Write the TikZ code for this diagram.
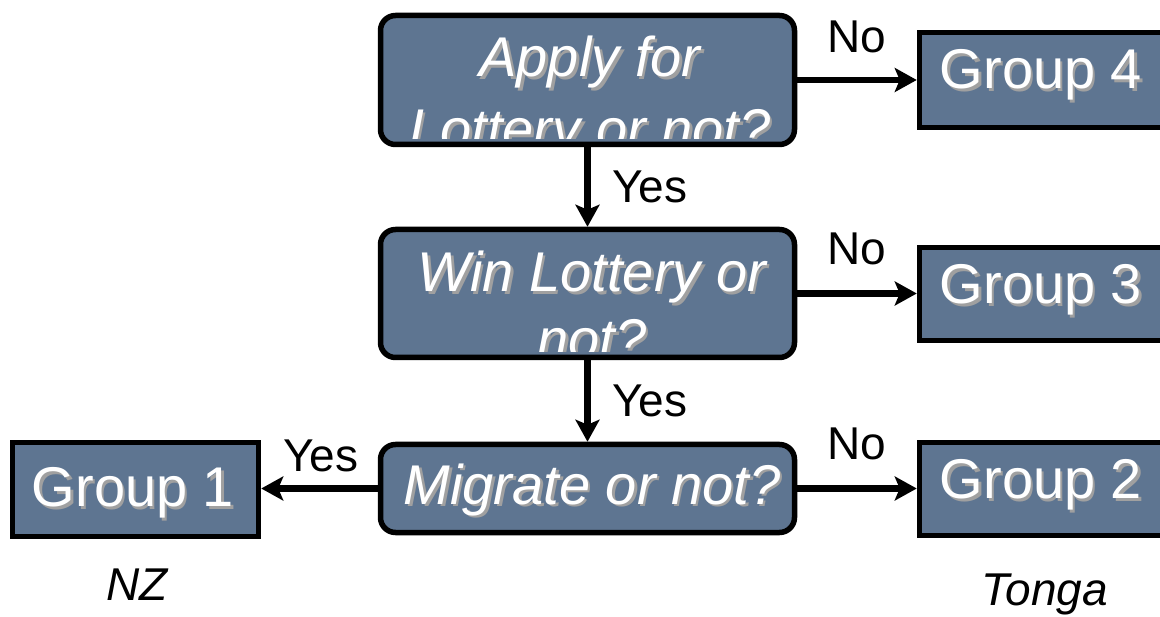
\documentclass[tikz,border=0pt]{standalone}
\usepackage{fontspec}
\setmainfont{Liberation Sans}
\usetikzlibrary{arrows.meta}
\definecolor{boxcol}{RGB}{94,117,145}
\definecolor{shcol}{RGB}{160,160,160}
\newcommand\shtxt[4]{% style, name, coord, text
  \node[#1, text=shcol] (#2s) at ([shift={(2.5,2.5)}]#3) {#4};
  \node[#1, text=white] (#2) at (#3) {#4};}
\begin{document}
\begin{tikzpicture}[x=1pt,y=-1pt,
  dbox/.style={draw=black, line width=5.5pt, fill=boxcol, rounded corners=15pt, inner sep=0pt},
  gbox/.style={draw=black, line width=5.5pt, fill=boxcol, inner sep=0pt},
  dtext/.style={font=\fontsize{56}{60}\selectfont\itshape, anchor=base, inner sep=0pt},
  gtext/.style={font=\fontsize{56}{60}\selectfont, anchor=base, inner sep=0pt},
  lbl/.style={font=\fontsize{46}{50}\selectfont, anchor=base, inner sep=0pt},
  place/.style={font=\fontsize{46}{50}\selectfont\itshape, anchor=base, inner sep=0pt},
  arr/.style={line width=6.5pt, -{Stealth[length=22pt, width=24pt, inset=5pt]}}]
\useasboundingbox (0,0) rectangle (1160,617);
\clip (0,0) rectangle (1160,617);

% decision boxes
\node[dbox, minimum width=414pt, minimum height=129pt] (apply) at (587.5,80) {};
\node[dbox, minimum width=414pt, minimum height=128pt] (win) at (587.5,293.5) {};
\node[dbox, minimum width=414pt, minimum height=88pt] (mig) at (587.5,488.5) {};

% group boxes
\node[gbox, minimum width=243pt, minimum height=95pt] (g4) at (1041,80) {};
\node[gbox, minimum width=243pt, minimum height=93pt] (g3) at (1041,294) {};
\node[gbox, minimum width=243pt, minimum height=93pt] (g2) at (1041,489) {};
\node[gbox, minimum width=246pt, minimum height=94pt] (g1) at (135.5,489.5) {};

% decision texts
\begin{scope}
  \clip (382,17) rectangle (793,139);
  \shtxt{dtext}{applyA}{590,77}{Apply for}
  \shtxt{dtext}{applyB}{590,149}{Lottery or not?}
\end{scope}
\begin{scope}
  \clip (382,231) rectangle (793,352);
  \shtxt{dtext}{winA}{592,292}{Win Lottery or}
  \shtxt{dtext}{winB}{592,359}{not?}
\end{scope}
\shtxt{dtext}{migA}{592,504}{Migrate or not?}

% group texts
\shtxt{gtext}{g4t}{1041,89}{Group 4}
\shtxt{gtext}{g3t}{1041,304}{Group 3}
\shtxt{gtext}{g2t}{1041,499}{Group 2}
\shtxt{gtext}{g1t}{133,507}{Group 1}

% connectors
\draw[arr] (apply.east) -- (g4.west |- apply.east);
\draw[arr] (win.east) -- (g3.west |- win.east);
\draw[arr] (mig.east) -- (g2.west |- mig.east);
\draw[arr] (mig.west) -- (g1.east |- mig.west);
\draw[arr] (apply.south) -- (win.north);
\draw[arr] (win.south) -- (mig.north);

% labels
\node[lbl] (no1) at (857,53) {No};
\node[lbl] (no2) at (857,265) {No};
\node[lbl] (no3) at (857,460) {No};
\node[lbl] (yes1) at (650,203) {Yes};
\node[lbl] (yes2) at (650,417) {Yes};
\node[lbl] (yes3) at (321,472) {Yes};
\node[place] (nz) at (137,600) {NZ};
\node[place] (tonga) at (1045,605) {Tonga};
\end{tikzpicture}
\end{document}
